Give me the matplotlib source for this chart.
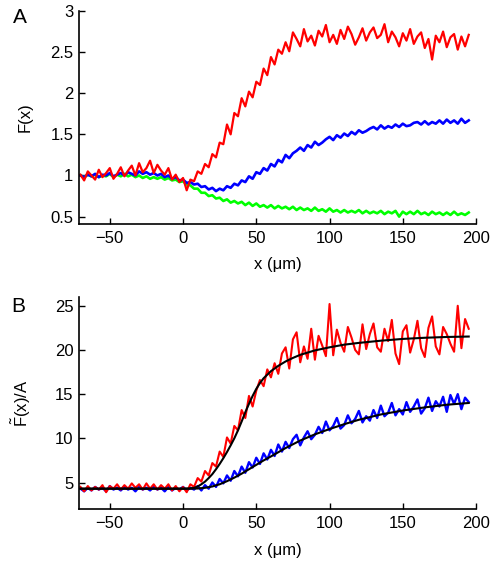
import numpy as np
import matplotlib
matplotlib.use('Agg')
import matplotlib.pyplot as plt

plt.rcParams['font.family'] = ['Liberation Sans', 'DejaVu Sans']
plt.rcParams['mathtext.fontset'] = 'custom'
plt.rcParams['mathtext.sf'] = 'Liberation Sans'
plt.rcParams['mathtext.rm'] = 'Liberation Sans'

# traces sampled every 2.5 um from -70 to 195 um
red_a = [1.01, 0.94, 1.05, 1.00, 0.95, 1.07, 0.98, 1.03,
         1.09, 0.96, 1.02, 1.10, 0.99, 1.06, 1.12, 1.00,
         1.15, 1.04, 1.09, 1.18, 1.03, 1.13, 1.06, 1.01,
         1.09, 0.95, 1.01, 0.92, 0.97, 0.82, 0.95, 0.93,
         1.05, 1.02, 1.14, 1.10, 1.26, 1.22, 1.40, 1.38,
         1.62, 1.50, 1.76, 1.72, 1.94, 1.84, 2.02, 1.95,
         2.14, 2.10, 2.30, 2.22, 2.44, 2.35, 2.53, 2.48,
         2.62, 2.51, 2.74, 2.66, 2.57, 2.78, 2.63, 2.70,
         2.58, 2.76, 2.69, 2.83, 2.62, 2.71, 2.60, 2.77,
         2.66, 2.81, 2.72, 2.59, 2.68, 2.79, 2.64, 2.74,
         2.80, 2.67, 2.71, 2.84, 2.62, 2.75, 2.68, 2.57,
         2.73, 2.64, 2.78, 2.60, 2.69, 2.74, 2.55, 2.66,
         2.41, 2.70, 2.62, 2.75, 2.56, 2.68, 2.72, 2.53,
         2.69, 2.57, 2.71]
blue_a = [1.00, 0.98, 1.01, 0.99, 1.02, 0.98, 1.01, 1.00,
          1.03, 0.99, 1.01, 1.03, 1.00, 1.04, 1.02, 1.00,
          1.05, 1.02, 1.04, 1.01, 1.03, 1.00, 1.02, 0.98,
          1.00, 0.96, 0.98, 0.94, 0.95, 0.91, 0.92, 0.89,
          0.90, 0.86, 0.87, 0.83, 0.85, 0.81, 0.84, 0.82,
          0.87, 0.85, 0.90, 0.88, 0.94, 0.92, 0.99, 0.96,
          1.04, 1.02, 1.09, 1.06, 1.14, 1.11, 1.19, 1.16,
          1.25, 1.21, 1.27, 1.30, 1.34, 1.30, 1.37, 1.34,
          1.41, 1.37, 1.40, 1.44, 1.47, 1.43, 1.49, 1.46,
          1.51, 1.48, 1.53, 1.50, 1.55, 1.52, 1.54, 1.57,
          1.59, 1.56, 1.61, 1.57, 1.60, 1.58, 1.62, 1.59,
          1.63, 1.60, 1.61, 1.64, 1.65, 1.62, 1.66, 1.62,
          1.65, 1.63, 1.67, 1.63, 1.68, 1.64, 1.67, 1.63,
          1.69, 1.64, 1.67]
green_a = [1.00, 0.98, 1.01, 0.99, 1.01, 0.98, 1.00, 0.99,
           1.02, 0.98, 1.01, 0.99, 1.02, 0.99, 1.01, 0.98,
           1.00, 0.97, 0.99, 0.96, 0.98, 0.96, 0.98, 0.95,
           0.97, 0.94, 0.95, 0.92, 0.93, 0.89, 0.88, 0.84,
           0.84, 0.79, 0.79, 0.75, 0.76, 0.72, 0.73, 0.69,
           0.71, 0.67, 0.69, 0.66, 0.68, 0.64, 0.67, 0.63,
           0.66, 0.62, 0.64, 0.61, 0.64, 0.60, 0.63, 0.60,
           0.62, 0.59, 0.62, 0.58, 0.61, 0.58, 0.60, 0.57,
           0.61, 0.57, 0.59, 0.56, 0.60, 0.56, 0.58, 0.55,
           0.58, 0.55, 0.57, 0.55, 0.58, 0.54, 0.57, 0.54,
           0.56, 0.54, 0.57, 0.53, 0.56, 0.54, 0.57, 0.50,
           0.56, 0.53, 0.56, 0.53, 0.57, 0.53, 0.55, 0.52,
           0.56, 0.53, 0.55, 0.52, 0.55, 0.52, 0.56, 0.52,
           0.54, 0.52, 0.55]
red_b = [4.5, 4.0, 4.6, 4.1, 4.5, 4.2, 4.7, 3.9,
         4.6, 4.3, 4.8, 4.2, 4.7, 4.3, 4.9, 4.4,
         4.8, 4.2, 4.9, 4.3, 4.8, 4.2, 4.7, 4.3,
         4.8, 4.1, 4.6, 4.0, 4.5, 3.9, 4.8, 4.5,
         5.5, 5.1, 6.3, 5.8, 7.2, 6.8, 8.5, 7.9,
         10.1, 9.4, 11.4, 10.9, 13.2, 12.3, 14.8, 13.6,
         15.4, 16.6, 15.9, 17.8, 16.9, 18.5, 17.3, 19.6,
         20.3, 17.9, 21.2, 22.0, 18.6, 20.4, 19.0, 22.4,
         18.9, 21.6, 20.5, 19.3, 25.2, 19.4, 22.3, 20.8,
         19.8, 22.6, 21.4, 20.0, 19.5, 22.9, 20.1, 21.8,
         23.0, 20.3, 19.8, 22.4, 21.0, 23.4, 19.6, 18.4,
         22.1, 22.8, 19.7, 21.2, 23.3, 20.2, 19.2, 22.5,
         23.8, 20.4, 19.5, 22.6, 21.8, 20.7, 19.8, 25.0,
         20.2, 23.5, 22.4]
blue_b = [4.3, 4.0, 4.4, 4.1, 4.5, 4.2, 4.4, 4.0,
          4.6, 4.2, 4.4, 4.1, 4.5, 4.2, 4.4, 4.0,
          4.5, 4.2, 4.4, 4.1, 4.5, 4.2, 4.4, 4.0,
          4.5, 4.1, 4.4, 4.2, 4.5, 4.1, 4.4, 4.2,
          4.6, 4.1, 4.7, 4.3, 5.0, 4.5, 5.4, 4.9,
          5.8, 5.2, 6.3, 5.7, 6.8, 6.1, 7.3, 6.7,
          7.8, 7.1, 8.3, 7.6, 8.7, 8.0, 9.3, 8.5,
          9.6, 8.9, 9.9, 10.4, 9.2, 10.1, 10.8, 9.9,
          10.4, 11.3, 10.6, 11.9, 10.9, 11.4, 12.3, 11.1,
          11.5, 12.6, 11.7, 12.2, 13.1, 11.8, 12.5, 12.0,
          13.2, 12.3, 13.7, 12.5, 12.9, 14.0, 12.6, 13.3,
          12.7, 14.1, 13.0, 13.6, 14.4, 12.8, 13.4, 14.6,
          13.1, 14.2, 13.6, 14.7, 13.0, 14.9, 13.9, 15.0,
          13.3, 14.6, 14.1]

# fitted curves (black) in panel B
fit_red_x = [-70, -20, 0, 5, 7.5, 10, 12.5, 15, 17.5, 20, 22.5, 25, 27.5, 30,
             32.5, 35, 37.5, 40, 42.5, 45, 47.5, 50, 52.5, 55, 60, 65, 70, 75,
             80, 90, 100, 110, 120, 135, 150, 165, 180, 195]
fit_red_y = [4.3, 4.3, 4.3, 4.32, 4.4, 4.55, 4.8, 5.1, 5.5, 5.95, 6.5, 7.1,
             7.75, 8.45, 9.2, 10.0, 10.9, 11.9, 12.95, 13.9, 14.8, 15.6, 16.25,
             16.8, 17.6, 18.2, 18.7, 19.1, 19.45, 19.95, 20.3, 20.6, 20.8,
             21.05, 21.25, 21.38, 21.47, 21.52]
fit_blue_x = [-70, 0, 10, 15, 20, 25, 30, 35, 40, 45, 50, 55, 60, 70, 80, 90,
              100, 110, 120, 135, 150, 165, 180, 195]
fit_blue_y = [4.3, 4.3, 4.32, 4.4, 4.55, 4.8, 5.15, 5.55, 6.0, 6.5, 7.0, 7.5,
              7.95, 8.9, 9.75, 10.45, 11.05, 11.6, 12.1, 12.7, 13.15, 13.5,
              13.8, 14.0]

xticks = [-50, 0, 50, 100, 150, 200]
yticks_a = [0.5, 1, 1.5, 2, 2.5, 3]
yticks_b = [5, 10, 15, 20, 25]


def xs(arr):
    return np.linspace(-70, 195, len(arr))


fig = plt.figure(figsize=(4.92, 5.64), dpi=100)
ax1 = fig.add_axes([0.1606, 0.6028, 0.807, 0.3777])
ax2 = fig.add_axes([0.1606, 0.0975, 0.807, 0.376])

ax1.plot(xs(green_a), green_a, color='#00ff00', lw=1.9)
ax1.plot(xs(blue_a), blue_a, color='#0000ff', lw=1.9)
ax1.plot(xs(red_a), red_a, color='#ff0000', lw=1.6)
ax1.set_xlim(-71, 200)
ax1.set_ylim(0.41, 3.0)
ax1.set_yticks(yticks_a)
ax1.set_yticklabels(['0.5', '1', '1.5', '2', '2.5', '3'])
ax1.set_ylabel('F(x)', fontsize=12)
ax1.yaxis.set_label_coords(-0.116, 0.5)

ax2.plot(xs(blue_b), blue_b, color='#0000ff', lw=1.7)
ax2.plot(xs(red_b), red_b, color='#ff0000', lw=1.5)
ax2.plot(fit_red_x, fit_red_y, color='k', lw=1.5)
ax2.plot(fit_blue_x, fit_blue_y, color='k', lw=1.5)
ax2.set_xlim(-71, 200)
ax2.set_ylim(2, 26)
ax2.set_yticks(yticks_b)
ax2.set_ylabel(r'$\tilde{\mathsf{F}}$(x)/A', fontsize=12)
ax2.yaxis.set_label_coords(-0.116, 0.5)

for ax, ly in ((ax1, -0.155), (ax2, -0.160)):
    ax.set_xticks(xticks)
    ax.set_xticklabels(['\u221250', '0', '50', '100', '150', '200'])
    ax.spines['top'].set_visible(False)
    ax.spines['right'].set_visible(False)
    ax.spines['left'].set_linewidth(1.2)
    ax.spines['bottom'].set_linewidth(1.2)
    ax.tick_params(direction='in', length=4, width=1.0, labelsize=12)
    ax.tick_params(axis='x', pad=5)
    ax.tick_params(axis='y', pad=4)
    ax.set_xlabel('x (\u03bcm)', fontsize=12)
    ax.xaxis.set_label_coords(0.5, ly)

fig.text(0.041, 0.985, 'A', fontsize=15, va='top', ha='center')
fig.text(0.037, 0.474, 'B', fontsize=15, va='top', ha='center')

fig.savefig('out.png', dpi=100)
